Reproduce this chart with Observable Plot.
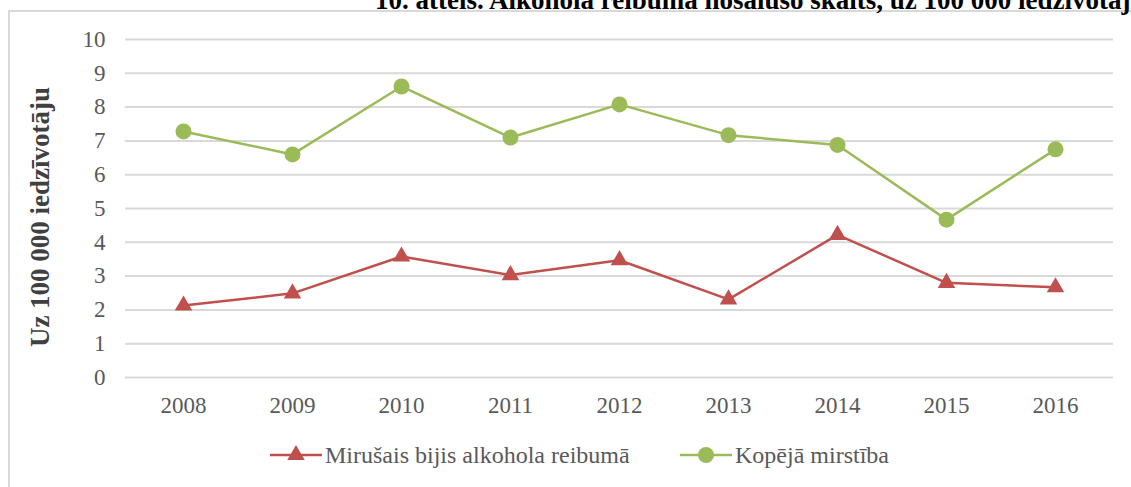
<!DOCTYPE html>
<html>
<head>
<meta charset="utf-8">
<script src="https://cdn.jsdelivr.net/npm/d3@7"></script>
<script src="https://cdn.jsdelivr.net/npm/@observablehq/plot@0.6"></script>
<style>
  html, body { margin: 0; padding: 0; background: #fff; }
  body { width: 1131px; height: 487px; overflow: hidden; position: relative; font-family: "Liberation Serif", "Times New Roman", serif; }
  #frame { position: absolute; left: 8px; top: 10px; width: 1200px; height: 600px; border-left: 2px solid #d9d9d9; border-top: 2px solid #d9d9d9; }
  #title { position: absolute; left: 375px; top: -13px; font-size: 27px; line-height: 27px; font-weight: bold; white-space: nowrap; color: #000; }
  #chart { position: absolute; left: 0; top: 0; }
  #ytitle { position: absolute; left: 40px; top: 217px; transform: translate(-50%, -50%) rotate(-90deg); font-size: 27px; font-weight: bold; white-space: nowrap; color: #404040; }
  #legend { position: absolute; top: 440px; left: 0; width: 1131px; height: 30px; }
  .item { position: absolute; top: 0; display: flex; align-items: center; font-size: 24px; color: #595959; white-space: nowrap; }
  .item svg { margin-right: 3px; }
</style>
</head>
<body>
<div id="frame"></div>
<div id="title">10. attēls. Alkohola reibumā nosalušo skaits, uz 100 000 iedzīvotājiem</div>
<div id="chart"></div>
<div id="ytitle">Uz 100 000 iedzīvotāju</div>
<div id="legend"></div>
<script>
const years = ["2008", "2009", "2010", "2011", "2012", "2013", "2014", "2015", "2016"];
const alcoholDeaths = [2.13, 2.49, 3.58, 3.03, 3.47, 2.31, 4.22, 2.80, 2.67];
const totalDeaths = [7.28, 6.60, 8.61, 7.10, 8.08, 7.17, 6.88, 4.67, 6.75];
const seriesNames = ["Mirušais bijis alkohola reibumā", "Kopējā mirstība"];
const seriesColors = ["#C0504D", "#9BBB59"];
const seriesSymbols = ["triangle", "circle"];
const yTicks = [0, 1, 2, 3, 4, 5, 6, 7, 8, 9, 10];

const rows = [];
years.forEach((y, i) => {
  rows.push({year: y, value: alcoholDeaths[i], series: seriesNames[0]});
  rows.push({year: y, value: totalDeaths[i], series: seriesNames[1]});
});

const chart = Plot.plot({
  width: 1131,
  height: 420,
  marginLeft: 125,
  marginRight: 18,
  marginTop: 39,
  marginBottom: 43,
  style: { fontFamily: "'Liberation Serif', 'Times New Roman', serif", fontSize: "23px", color: "#595959", background: "transparent" },
  x: { type: "point", domain: years, padding: 0.5, label: null },
  y: { domain: [0, 10], label: null },
  color: { domain: seriesNames, range: seriesColors },
  symbol: { domain: seriesNames, range: seriesSymbols },
  marks: [
    Plot.gridY(yTicks, { stroke: "#d9d9d9", strokeOpacity: 1, strokeWidth: 2 }),
    Plot.axisY(yTicks, { tickSize: 0, tickPadding: 20, label: null, fill: "#595959", fontSize: 23 }),
    Plot.axisX({ tickSize: 0, tickPadding: 19, label: null, fill: "#595959", fontSize: 23 }),
    Plot.line(rows, { x: "year", y: "value", z: "series", stroke: "series", strokeWidth: 2.5 }),
    Plot.dot(rows.filter(d => d.series === seriesNames[0]), { x: "year", y: "value", symbol: "series", fill: "series", r: 6.5 }),
    Plot.dot(rows.filter(d => d.series === seriesNames[1]), { x: "year", y: "value", symbol: "series", fill: "series", r: 8 })
  ]
});
document.getElementById("chart").appendChild(chart);

// Legend
const legend = document.getElementById("legend");
const legendLeft = [270, 680];
seriesNames.forEach((name, i) => {
  const item = document.createElement("div");
  item.className = "item";
  item.style.left = legendLeft[i] + "px";
  const sym = d3.symbol(seriesSymbols[i] === "triangle" ? d3.symbolTriangle : d3.symbolCircle, i === 0 ? 6.5 * 6.5 * Math.PI : 8 * 8 * Math.PI)();
  item.innerHTML = `<svg width="52" height="30"><line x1="0" x2="52" y1="15" y2="15" stroke="${seriesColors[i]}" stroke-width="2.5"/><path d="${sym}" transform="translate(26,15)" fill="${seriesColors[i]}"/></svg><span>${name}</span>`;
  legend.appendChild(item);
});
</script>
</body>
</html>
